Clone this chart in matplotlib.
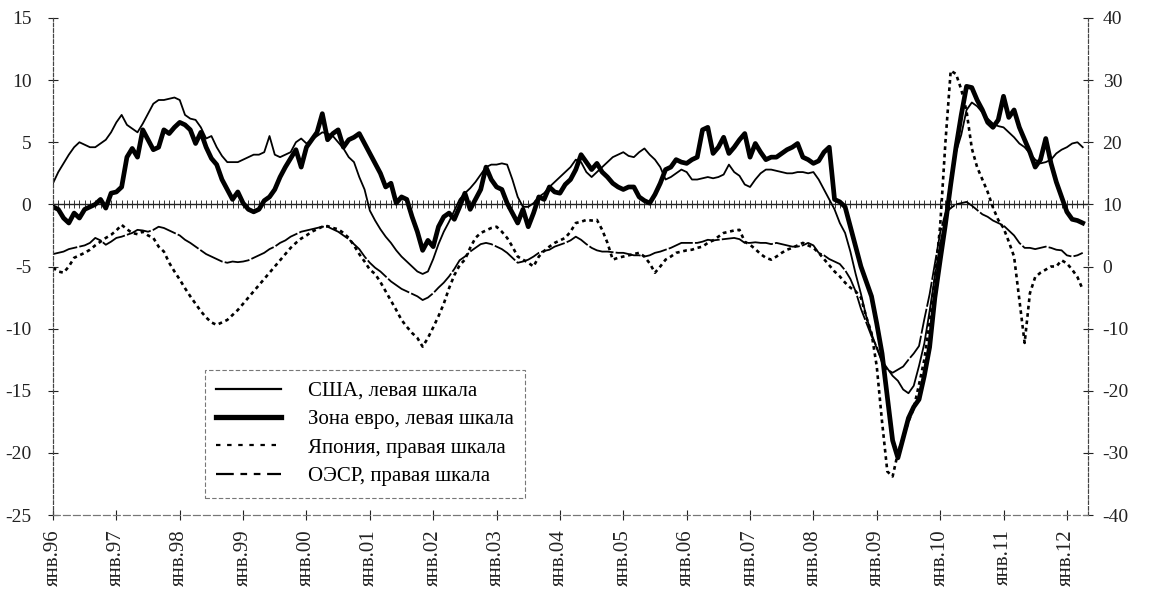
import numpy as np
import pandas as pd
import matplotlib
matplotlib.use("Agg")
import matplotlib.pyplot as plt
from matplotlib.lines import Line2D

# ---- data (monthly, Jan 1996 .. Apr 2012), % y/y ----
months = pd.date_range("1996-01-01", periods=196, freq="MS")

usa = [  # left scale
    1.7, 2.6, 3.3, 4.0, 4.6, 5.0, 4.8, 4.6, 4.6, 4.9, 5.2, 5.8,
    6.6, 7.2, 6.4, 6.1, 5.8, 6.5, 7.3, 8.1, 8.4, 8.4, 8.5, 8.6,
    8.4, 7.2, 6.9, 6.8, 6.2, 5.3, 5.5, 4.6, 3.9, 3.4, 3.4, 3.4,
    3.6, 3.8, 4.0, 4.0, 4.2, 5.5, 4.0, 3.8, 4.0, 4.2, 5.0, 5.3,
    4.9, 5.2, 5.5, 5.8, 5.7, 5.5, 5.0, 4.5, 3.8, 3.4, 2.2, 1.2,
    -0.5, -1.3, -2.0, -2.6, -3.1, -3.7, -4.2, -4.6, -5.0, -5.4, -5.6, -5.4,
    -4.4, -3.2, -2.2, -1.4, -0.5, 0.4, 0.9, 1.3, 1.8, 2.4, 3.0, 3.2,
    3.2, 3.3, 3.2, 2.0, 0.6, -0.2, -0.2, 0.1, 0.6, 0.9, 1.4, 1.8,
    2.2, 2.6, 3.0, 3.6, 3.4, 2.6, 2.2, 2.6, 3.0, 3.4, 3.8, 4.0,
    4.2, 3.9, 3.8, 4.2, 4.5, 4.0, 3.6, 3.0, 2.0, 2.2, 2.5, 2.8,
    2.6, 2.0, 2.0, 2.1, 2.2, 2.1, 2.2, 2.4, 3.2, 2.6, 2.3, 1.6,
    1.4, 2.0, 2.5, 2.8, 2.8, 2.7, 2.6, 2.5, 2.5, 2.6, 2.6, 2.5,
    2.6, 2.0, 1.2, 0.4, -0.4, -1.5, -2.3, -3.8, -5.6, -7.2, -9.0, -10.4,
    -11.6, -12.6, -13.2, -13.8, -14.2, -14.9, -15.2, -14.6, -13.0, -11.2, -8.6, -5.8,
    -3.2, -1.2, 2.0, 4.2, 5.6, 7.6, 8.2, 7.9, 7.4, 6.9, 6.5, 6.3,
    6.2, 5.8, 5.4, 4.9, 4.6, 4.1, 3.6, 3.3, 3.4, 3.6, 4.1, 4.4,
    4.6, 4.9, 5.0, 4.6,
]

euro = [  # left scale
    -0.2, -0.4, -1.1, -1.5, -0.7, -1.1, -0.4, -0.2, 0.0, 0.4, -0.3, 0.9,
    1.0, 1.4, 3.8, 4.5, 3.8, 6.0, 5.2, 4.4, 4.6, 6.0, 5.7, 6.2,
    6.6, 6.4, 6.0, 4.9, 5.8, 4.6, 3.7, 3.2, 2.0, 1.2, 0.4, 1.0,
    0.1, -0.4, -0.6, -0.4, 0.3, 0.6, 1.2, 2.2, 3.0, 3.7, 4.4, 3.0,
    4.6, 5.2, 5.8, 7.3, 5.2, 5.7, 6.0, 4.6, 5.2, 5.4, 5.7, 4.9,
    4.1, 3.3, 2.5, 1.4, 1.7, 0.1, 0.6, 0.4, -1.0, -2.2, -3.7, -2.9,
    -3.4, -1.8, -1.0, -0.7, -1.2, -0.2, 0.9, -0.4, 0.4, 1.2, 3.0, 2.0,
    1.4, 1.2, 0.1, -0.7, -1.5, -0.4, -1.8, -0.7, 0.6, 0.4, 1.4, 1.0,
    0.9, 1.6, 2.0, 2.8, 4.0, 3.4, 2.8, 3.3, 2.6, 2.2, 1.7, 1.4,
    1.2, 1.4, 1.4, 0.6, 0.3, 0.1, 0.8, 1.7, 2.8, 3.0, 3.6, 3.4,
    3.3, 3.6, 3.8, 6.0, 6.2, 4.1, 4.6, 5.4, 4.1, 4.6, 5.2, 5.7,
    3.8, 4.9, 4.2, 3.6, 3.8, 3.8, 4.1, 4.4, 4.6, 4.9, 3.8, 3.6,
    3.3, 3.5, 4.2, 4.6, 0.4, 0.2, -0.2, -1.8, -3.4, -5.0, -6.2, -7.4,
    -9.6, -12.0, -15.5, -19.0, -20.4, -18.8, -17.2, -16.3, -15.7, -13.8, -11.5, -7.5,
    -4.5, -1.6, 1.6, 4.6, 7.2, 9.5, 9.4, 8.4, 7.6, 6.6, 6.2, 6.8,
    8.7, 7.0, 7.6, 6.2, 5.2, 4.2, 3.0, 3.6, 5.3, 3.3, 1.8, 0.6,
    -0.6, -1.2, -1.3, -1.5,
]

japan = [  # right scale
    -0.2, -0.8, -1.0, 0.0, 1.4, 1.8, 2.2, 2.7, 3.4, 4.0, 4.6, 5.1,
    5.8, 6.7, 6.0, 5.4, 5.2, 5.6, 5.0, 4.6, 3.2, 2.4, 0.6, -0.8,
    -2.1, -3.5, -4.8, -6.0, -7.2, -8.2, -9.0, -9.4, -9.0, -8.6, -7.8, -7.0,
    -6.0, -5.0, -4.0, -3.0, -2.0, -1.0, 0.0, 1.0, 2.0, 3.0, 3.8, 4.5,
    5.0, 5.6, 6.0, 6.4, 6.5, 6.2, 6.0, 5.4, 4.6, 3.4, 2.0, 0.8,
    -0.5, -1.2, -2.5, -4.0, -5.5, -7.0, -8.6, -9.7, -10.7, -11.5, -12.9, -11.5,
    -9.8, -8.0, -6.0, -3.5, -1.4, 0.2, 1.1, 3.0, 4.6, 5.4, 5.8, 6.2,
    6.4, 5.6, 4.6, 3.2, 1.6, 1.1, 0.6, 0.0, 1.6, 2.5, 3.2, 3.8,
    4.2, 4.6, 5.6, 7.0, 7.2, 7.5, 7.4, 7.5, 5.9, 3.8, 1.1, 1.4,
    1.6, 1.8, 2.0, 2.2, 1.6, 0.5, -1.0, 0.0, 1.1, 1.6, 2.2, 2.4,
    2.6, 2.7, 3.0, 3.2, 3.8, 4.2, 4.8, 5.4, 5.6, 5.8, 5.9, 4.0,
    3.5, 2.8, 2.0, 1.4, 1.1, 1.6, 2.2, 2.7, 3.0, 3.4, 3.8, 3.4,
    3.0, 2.2, 1.2, 0.2, -0.8, -1.6, -2.6, -3.4, -4.0, -5.0, -8.1, -10.7,
    -16.1, -25.0, -33.0, -33.8, -30.0, -27.5, -25.0, -22.8, -19.0, -15.0, -9.0, -2.0,
    6.5, 20.0, 31.5, 31.0, 28.5, 25.0, 19.0, 16.0, 14.0, 12.0, 9.5, 7.5,
    6.2, 4.0, 1.6, -5.3, -12.3, -4.3, -1.7, -1.0, -0.5, 0.0, 0.0, 1.0,
    0.5, -0.5, -1.7, -3.7,
]

oecd = [  # right scale
    2.0, 2.2, 2.4, 2.8, 3.0, 3.2, 3.4, 3.8, 4.6, 4.2, 3.5, 4.0,
    4.6, 4.8, 5.1, 5.4, 5.9, 5.8, 5.6, 5.9, 6.4, 6.2, 5.8, 5.4,
    5.0, 4.3, 3.8, 3.2, 2.6, 2.0, 1.6, 1.2, 0.8, 0.6, 0.8, 0.7,
    0.8, 1.0, 1.4, 1.8, 2.2, 2.8, 3.2, 3.8, 4.2, 4.8, 5.2, 5.6,
    5.8, 6.0, 6.2, 6.4, 6.4, 6.0, 5.6, 5.0, 4.4, 3.6, 2.8, 1.6,
    0.6, -0.2, -0.8, -1.6, -2.4, -3.0, -3.6, -4.0, -4.4, -4.8, -5.4, -5.0,
    -4.3, -3.4, -2.6, -1.6, -0.4, 1.0, 1.6, 2.4, 3.0, 3.6, 3.8, 3.6,
    3.2, 2.8, 2.2, 1.4, 0.6, 0.8, 1.1, 1.6, 2.2, 2.5, 2.7, 3.2,
    3.5, 3.8, 4.2, 4.8, 4.3, 3.6, 3.0, 2.6, 2.4, 2.4, 2.3, 2.2,
    2.2, 2.0, 1.8, 1.8, 1.6, 1.8, 2.2, 2.4, 2.7, 3.0, 3.4, 3.8,
    3.8, 3.8, 3.8, 4.0, 4.3, 4.2, 4.3, 4.4, 4.5, 4.6, 4.4, 3.8,
    3.8, 3.9, 3.8, 3.8, 3.6, 3.8, 3.6, 3.4, 3.2, 3.2, 3.4, 3.8,
    3.4, 2.2, 1.8, 1.2, 0.8, 0.4, -0.6, -2.0, -4.0, -6.8, -9.0, -11.2,
    -12.9, -15.5, -16.6, -17.1, -16.6, -16.1, -15.0, -14.0, -12.8, -8.5, -4.5, 0.5,
    5.4, 8.6, 9.4, 10.0, 10.2, 10.4, 9.8, 9.1, 8.4, 8.0, 7.4, 7.0,
    6.6, 5.8, 5.0, 3.8, 3.0, 3.0, 2.8, 3.0, 3.2, 3.0, 2.7, 2.6,
    1.8, 1.6, 1.8, 2.2,
]

x_labels = ["янв.96", "янв.97", "янв.98", "янв.99", "янв.00", "янв.01",
            "янв.02", "янв.03", "янв.04", "янв.05", "янв.06", "янв.07",
            "янв.08", "янв.09", "янв.10", "янв.11", "янв.12"]
left_ticks = [-25, -20, -15, -10, -5, 0, 5, 10, 15]
right_ticks = [-40, -30, -20, -10, 0, 10, 20, 30, 40]
legend_labels = ["США, левая шкала", "Зона евро, левая шкала",
                 "Япония, правая шкала", "ОЭСР, правая шкала"]

# ---- figure ----
plt.rcParams["font.family"] = ["Liberation Serif", "DejaVu Serif"]
W, H = 1149, 602
fig = plt.figure(figsize=(W / 100, H / 100), dpi=100)
ax = fig.add_axes([53 / W, (H - 515) / H, 1035 / W, 497 / H])
ax2 = ax.twinx()

xm = np.arange(len(months))

ax.plot(xm, usa, color="black", lw=1.3, solid_joinstyle="round")
ax.plot(xm, euro, color="black", lw=3.4, solid_joinstyle="round")
ax2.plot(xm, japan, color="black", lw=1.9, linestyle=(0, (1.4, 1.4)))
ax2.plot(xm, oecd, color="black", lw=1.3, linestyle=(0, (14, 1.2)))

ax.set_xlim(0, 196)
ax.set_ylim(-25, 15)
ax2.set_ylim(-40, 40)

ax.set_yticks(left_ticks)
ax2.set_yticks(right_ticks)
ax.set_yticklabels([str(v) for v in left_ticks])
ax2.set_yticklabels([str(v) for v in right_ticks])

year_pos = np.arange(0, 193, 12)
ax.set_xticks(year_pos)
ax.set_xticklabels(x_labels, rotation=90, va="top", ha="center")

ax.tick_params(axis="y", direction="inout", length=7, width=0.8, pad=12,
               labelsize=14, colors="#222222")
ax2.tick_params(axis="y", direction="inout", length=7, width=0.8, pad=7,
                labelsize=14, colors="#222222")
ax.tick_params(axis="x", direction="inout", length=7, width=0.8, pad=7,
               labelsize=15, colors="#222222")

# zero line with monthly ticks (category axis crossing at 0)
zero_axis = ax.secondary_xaxis(25 / 40)
zero_axis.set_xticks(xm)
zero_axis.set_xticklabels([])
zero_axis.tick_params(direction="inout", length=6, width=0.7, colors="#333333")
for sp in zero_axis.spines.values():
    sp.set_linewidth(1.0)
    sp.set_color("#222222")

for a in (ax, ax2):
    a.spines["top"].set_visible(False)
    a.spines["left"].set_linewidth(0.8)
    a.spines["left"].set_linestyle((0, (3, 2)))
    a.spines["left"].set_color("#444444")
    a.spines["right"].set_linewidth(0.8)
    a.spines["right"].set_linestyle((0, (3, 2)))
    a.spines["right"].set_color("#444444")
    a.spines["bottom"].set_linewidth(0.8)
    a.spines["bottom"].set_linestyle((0, (6, 3)))
    a.spines["bottom"].set_color("#777777")

handles = [
    Line2D([], [], color="black", lw=1.6),
    Line2D([], [], color="black", lw=3.8),
    Line2D([], [], color="black", lw=1.6, linestyle=(0, (2, 3))),
    Line2D([], [], color="black", lw=1.6, dashes=(8, 3, 3, 3, 3, 3)),
]
leg = ax2.legend(handles, legend_labels, loc="upper left",
                 bbox_to_anchor=(205 / W, 1 - 370 / H),
                 bbox_transform=fig.transFigure,
                 fontsize=15, frameon=True, fancybox=False,
                 handlelength=3.1, handletextpad=1.3, labelspacing=0.42,
                 borderpad=0.55, borderaxespad=0.0)
leg.get_frame().set_edgecolor("#555555")
leg.get_frame().set_linewidth(0.8)
leg.get_frame().set_linestyle((0, (4, 2)))
leg.get_frame().set_facecolor("white")

fig.savefig("out.png", dpi=100)
